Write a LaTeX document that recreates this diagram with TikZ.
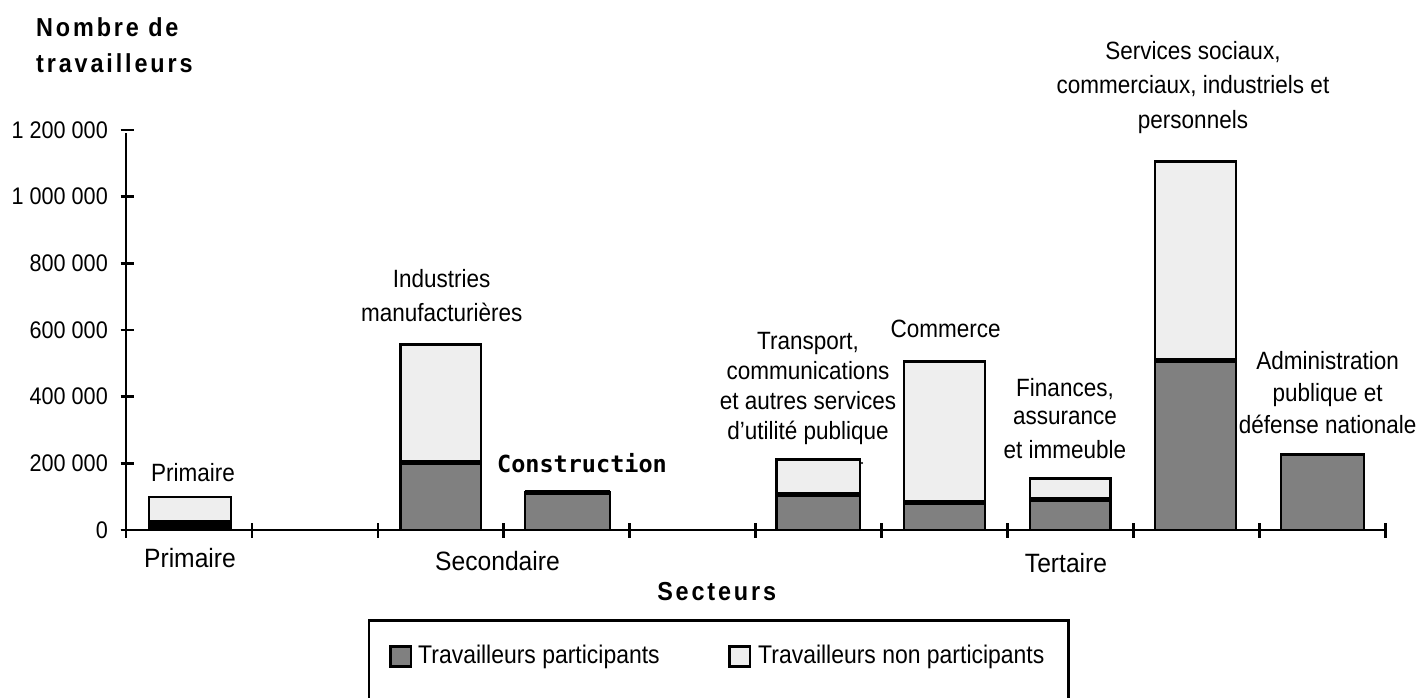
\documentclass[tikz,border=0pt]{standalone}
\usepackage{fontspec}
\setmainfont{Liberation Sans}[FakeStretch=0.9]
\newfontfamily\titlefont{Liberation Sans}[FakeStretch=0.9,LetterSpace=11]
\newfontfamily\catfont{Liberation Sans}[FakeStretch=0.93]
\newfontfamily\cmono{DejaVu Sans Mono}
\definecolor{partc}{HTML}{808080}
\definecolor{nonpc}{HTML}{EEEEEE}
\tikzset{
  barline/.style={line width=2.6pt, draw=black, line join=miter},
  splitline/.style={line width=5pt, draw=black},
  axisline/.style={line width=2.8pt, draw=black},
  lbl/.style={inner sep=0pt, align=center, font=\fontsize{25}{32}\selectfont},
  ticklbl/.style={inner sep=0pt, anchor=east, font=\fontsize{24}{28}\selectfont},
  catlbl/.style={inner sep=0pt, font=\catfont\fontsize{26.5}{30}\selectfont},
  titlelbl/.style={inner sep=0pt, align=left, font=\titlefont\bfseries\fontsize{26}{36}\selectfont},
  leglbl/.style={inner sep=0pt, anchor=west, font=\fontsize{25.5}{28}\selectfont},
  legbox/.style={line width=2.6pt, draw=black},
}
\begin{document}
\begin{tikzpicture}[x=1pt,y=-1pt]
\useasboundingbox (0,0) rectangle (1424,698);

% title of y axis
\node[titlelbl, anchor=west] (ytitle) at (36,45) {Nombre de\\travailleurs};

% bars: left / right / top / split
\foreach \xl/\xr/\tp/\md in {400.5/481/344.5/462.5, 776.7/860/459.5/494,
  904/985/361.2/502, 1030/1110.7/478.5/499.7, 1155/1236/161.2/360.7}{
  \draw[barline, fill=nonpc] (\xl,\md) rectangle (\xr,\tp);
  \draw[barline, fill=partc] (\xl,530) rectangle (\xr,\md);
  \draw[splitline] (\xl,\md) -- (\xr,\md);
}
% Primaire
\draw[barline, fill=nonpc] (149,521.7) rectangle (231,497);
\draw[barline, fill=black] (149,530) rectangle (231,521.7);
% Construction
\draw[barline, fill=partc] (525,530) rectangle (610,492);
\draw[splitline] (525,492) -- (610,492);
% Administration
\draw[barline, fill=partc] (1281,530) rectangle (1364,454.2);
\fill (862,463) circle (1.2);

% axes
\draw[axisline] (126,133.3) -- (126,538);
\draw[axisline] (120.5,530) -- (1386.5,530);
\foreach \k in {0,...,6}{
  \draw[axisline] (120.5,{530-66.67*\k}) -- (133.5,{530-66.67*\k});
}
\foreach \k in {1,...,10}{
  \draw[axisline] ({126+125.95*\k},523) -- ({126+125.95*\k},538);
}
\foreach \k/\t in {0/0, 1/200 000, 2/400 000, 3/600 000, 4/800 000, 5/1 000 000, 6/1 200 000}{
  \node[ticklbl] (tick\k) at (108,{530-66.67*\k}) {\t};
}

% bar labels
\node[lbl] (lprim) at (193,473) {Primaire};
\node[lbl, font=\fontsize{25}{34}\selectfont] (lind) at (441.7,296) {Industries\\manufacturières};
\node[inner sep=0pt, font=\cmono\bfseries\fontsize{23.5}{28}\selectfont] (lcons) at (582,463) {Construction};
\node[lbl, font=\fontsize{25}{30}\selectfont] (ltrans) at (808,388) {Transport,\\communications\\et autres services\\d'utilité publique};
\node[lbl] (lcomm) at (945.7,329) {Commerce};
\node[lbl, font=\fontsize{25}{28}\selectfont] (lfin) at (1065,419) {Finances,\\assurance\\[6pt]et immeuble};
\node[lbl, font=\fontsize{25}{34.5}\selectfont] (lserv) at (1193,87.5) {Services sociaux,\\commerciaux, industriels et\\personnels};
\node[lbl, font=\fontsize{25}{32}\selectfont] (ladm) at (1327.7,393) {Administration\\publique et\\défense nationale};

% category labels
\node[catlbl] (cprim) at (190,558) {Primaire};
\node[catlbl] (csec) at (497.5,560.7) {Secondaire};
\node[catlbl] (cter) at (1066,562.7) {Tertaire};
\node[titlelbl] (xtitle) at (716.7,591.7) {Secteurs};

% legend
\draw[legbox] (369,702) -- (369,620.7) -- (1068.3,620.7) -- (1068.3,702);
\draw[barline, fill=partc] (390.5,646.5) rectangle (411,666.5);
\node[leglbl] (leg1) at (418,656.5) {Travailleurs participants};
\draw[barline, fill=nonpc] (729.5,646.5) rectangle (750,666.5);
\node[leglbl] (leg2) at (758,656.5) {Travailleurs non participants};
\end{tikzpicture}
\end{document}
